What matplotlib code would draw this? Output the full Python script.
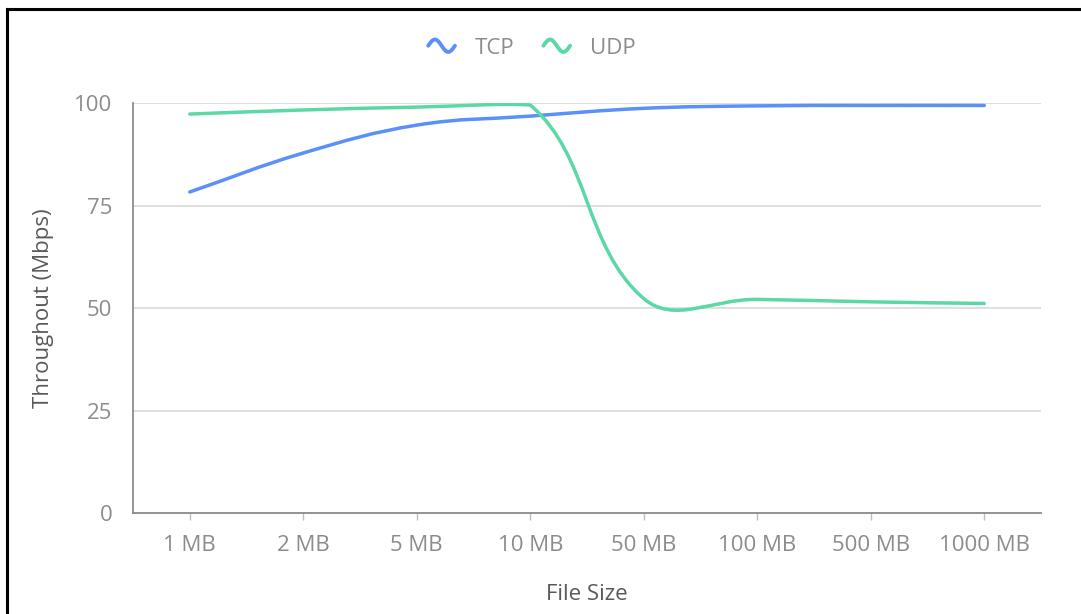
import numpy as np
import matplotlib
matplotlib.use("Agg")
import matplotlib.pyplot as plt
from matplotlib.path import Path
from matplotlib.patches import PathPatch
from matplotlib.lines import Line2D
from matplotlib.legend_handler import HandlerBase

plt.rcParams['font.family'] = ['Open Sans', 'DejaVu Sans']

sizes = ["1 MB", "2 MB", "5 MB", "10 MB", "50 MB", "100 MB", "500 MB", "1000 MB"]
tcp = [78.3, 87.8, 94.6, 96.8, 98.7, 99.3, 99.4, 99.4]
udp = [97.3, 98.3, 99.0, 99.5, 52.3, 52.1, 51.5, 51.1]
series = [("TCP", tcp, "#5B8FF9"), ("UDP", udp, "#5AD8A6")]
yticks = [0, 25, 50, 75, 100]

W, H = 1081, 614
fig = plt.figure(figsize=(W / 100, H / 100), dpi=100)
ax = fig.add_axes([133 / W, 1 - 513 / H, (1041 - 133) / W, (513 - 103) / H])
ax.set_xlim(-0.5, len(sizes) - 0.5)
ax.set_ylim(0, 100)


def smooth_path(xs, ys, smooth=0.4):
    # catmull-rom style bezier in pixel space, control points kept inside plot area
    pts = ax.transData.transform(np.column_stack([xs, ys]))
    lo = ax.transData.transform((ax.get_xlim()[0], 0))
    hi = ax.transData.transform((ax.get_xlim()[1], 100))
    n = len(pts)
    cps = []
    for i in range(n):
        p = pts[i]
        prev = pts[i - 1] if i > 0 else p
        nxt = pts[i + 1] if i < n - 1 else p
        v = nxt - prev
        d0 = np.hypot(*(p - prev))
        d1 = np.hypot(*(p - nxt))
        s = d0 + d1
        if s:
            d0, d1 = d0 / s, d1 / s
        c0 = np.clip(p - v * d0 * smooth, lo, hi)
        c1 = np.clip(p + v * d1 * smooth, lo, hi)
        cps.append((c0, c1))
    verts = [pts[0]]
    codes = [Path.MOVETO]
    for i in range(1, n):
        verts += [cps[i - 1][1], cps[i][0], pts[i]]
        codes += [Path.CURVE4] * 3
    verts = ax.transData.inverted().transform(np.array(verts))
    return Path(verts, codes)


x = np.arange(len(sizes))
for name, vals, color in series:
    ax.add_patch(PathPatch(smooth_path(x, vals), fill=False, edgecolor=color,
                           lw=2.5, capstyle='round', joinstyle='round', zorder=3))

ax.set_yticks(yticks)
ax.set_xticks(x)
ax.set_xticklabels(sizes)
ax.grid(axis='y', color='#d9d9d9', lw=1.2)
ax.set_axisbelow(True)
for s in ['top', 'right']:
    ax.spines[s].set_visible(False)
for s in ['left', 'bottom']:
    ax.spines[s].set_color('#8c8c8c')
    ax.spines[s].set_linewidth(1.3)
ax.tick_params(axis='y', length=0, pad=15, labelsize=16, labelcolor='#8c8c8c')
ax.tick_params(axis='x', length=5, width=1, color='#bfbfbf', pad=11,
               labelsize=16, labelcolor='#8c8c8c')
ax.set_xlabel("File Size", fontsize=16, color='#595959', labelpad=20)
ax.set_ylabel("Throughout (Mbps)", fontsize=16, color='#595959', labelpad=14)


class WaveHandler(HandlerBase):
    def create_artists(self, legend, orig_handle, xd, yd, width, height, fontsize, trans):
        t = np.linspace(0, 1, 40)
        wx = xd + width * t
        wy = yd + height / 2 + height * 0.4 * np.sin(2 * np.pi * t)
        ln = Line2D(wx, wy, color=orig_handle.get_color(), lw=2.8,
                    solid_capstyle='round', transform=trans)
        return [ln]


handles = [Line2D([], [], color=c) for _, _, c in series]
fig.legend(handles, [n for n, _, _ in series], loc='center', bbox_to_anchor=(532 / W, 1 - 48 / H),
           ncol=2, frameon=False, fontsize=16, labelcolor='#8c8c8c',
           handler_map={Line2D: WaveHandler()}, handlelength=1.2, handletextpad=0.9,
           columnspacing=1.3)

# frame lines at top and left edge of the screenshot
fig.add_artist(Line2D([7 / W, 1], [1 - 9 / H, 1 - 9 / H], color='black', lw=2.2))
fig.add_artist(Line2D([7 / W, 7 / W], [0, 1 - 9 / H], color='black', lw=2.2))

fig.savefig("out.png", dpi=100)
